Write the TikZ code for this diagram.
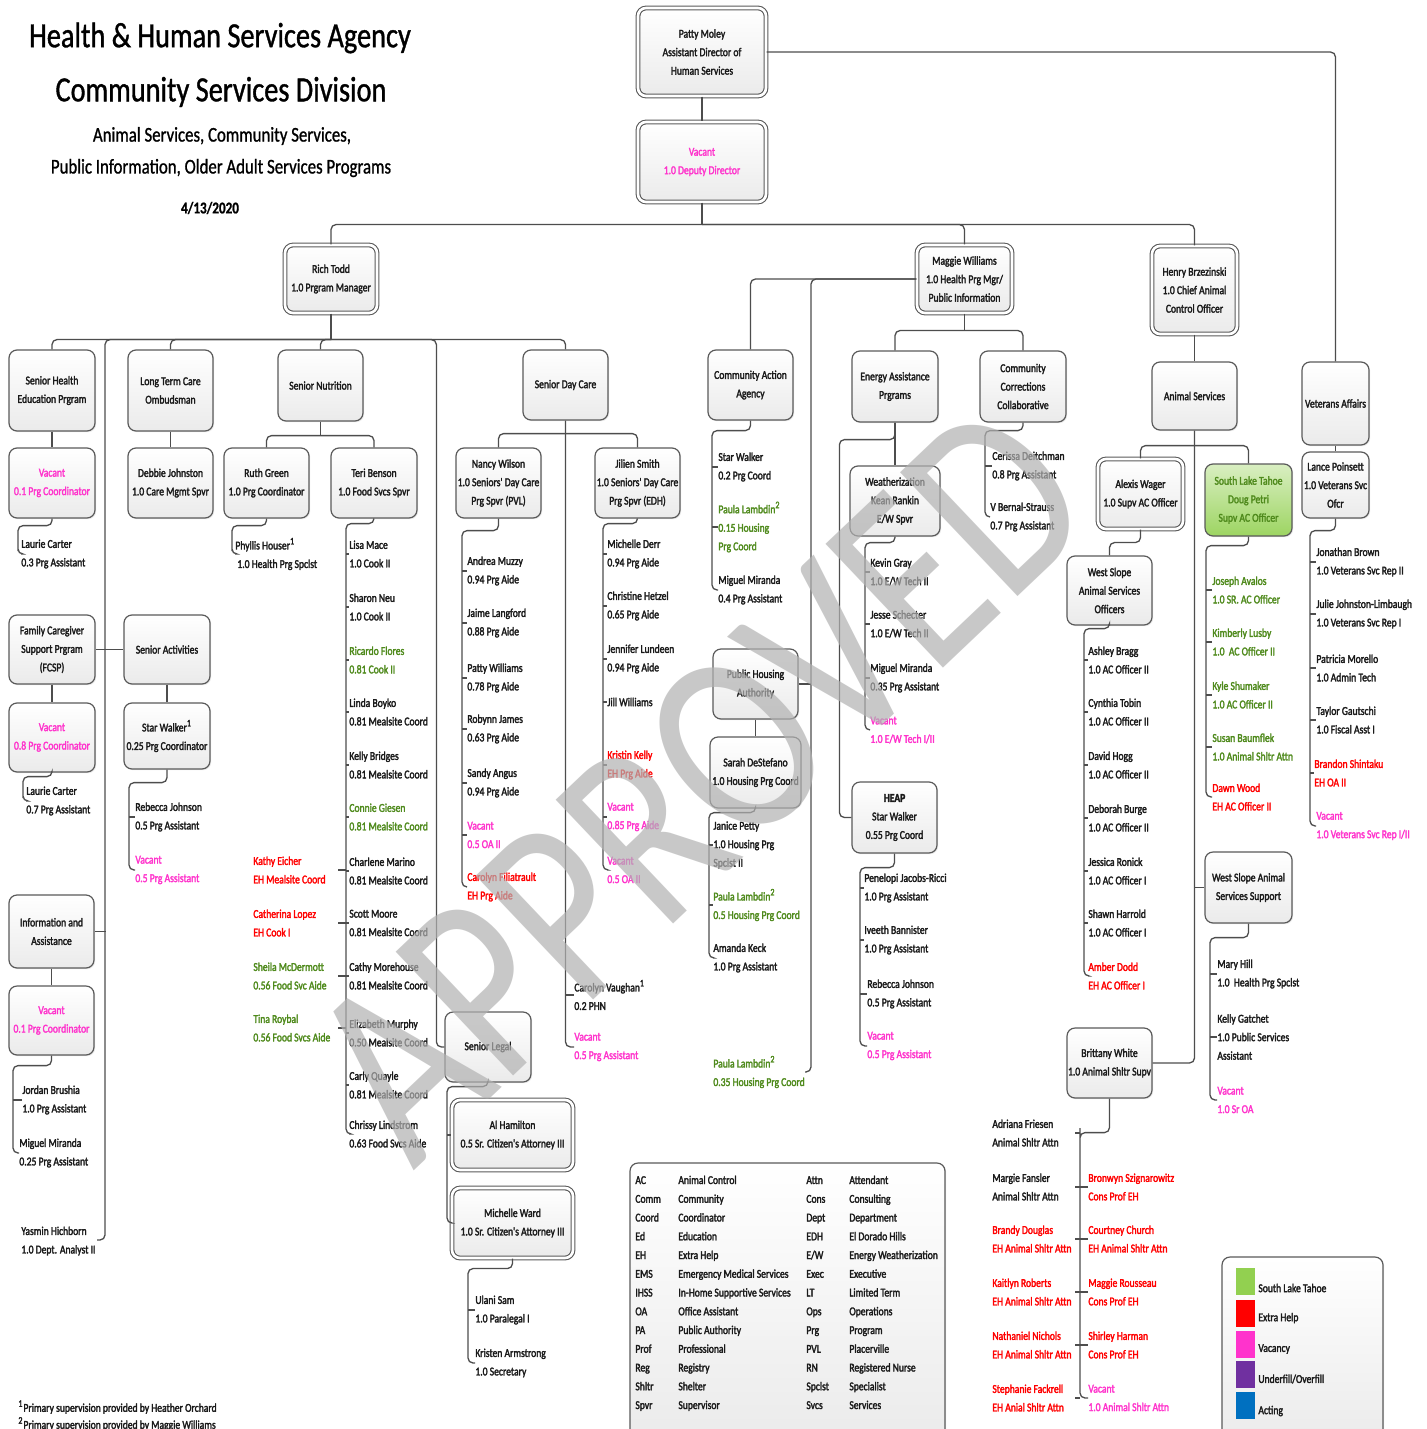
\documentclass[tikz,border=0pt]{standalone}
\usepackage{fontspec}
\setmainfont{Carlito}[FakeStretch=0.8,FakeBold=1]
\newfontfamily\smfont{Carlito}[FakeStretch=0.8,FakeBold=2.2]
\newfontfamily\wmfont{Carlito}[FakeStretch=0.8]
\usetikzlibrary{shadows}
\definecolor{txt}{HTML}{1A1A1A}
\definecolor{mag}{HTML}{FF33CC}
\definecolor{redc}{HTML}{FF0000}
\definecolor{grn}{HTML}{4F8A1C}
\definecolor{lgrn}{HTML}{92D050}
\definecolor{lpur}{HTML}{7030A0}
\definecolor{lblu}{HTML}{0070C0}
\definecolor{lnc}{HTML}{4D4D4D}
\definecolor{bdc}{HTML}{5A5A5A}
\newcommand{\sm}{\smfont\fontsize{6}{9.25}\selectfont}
\tikzset{
 conn/.style={draw=lnc, line width=0.65pt, rounded corners=2.5pt},
 box/.style={draw=bdc, line width=0.6pt, rounded corners=4pt, top color=white, bottom color=black!8, align=center, inner sep=0pt, font=\sm, text=txt, drop shadow={opacity=0.15, shadow xshift=0.6pt, shadow yshift=-0.6pt}},
 dbox/.style={double=white, double distance=1.3pt, line width=0.55pt},
 gbox/.style={top color=lgrn!35, bottom color=lgrn!90, text=grn},
 staff/.style={anchor=west, inner sep=0pt, align=left, font=\sm, text=txt},
 vac/.style={text=mag}, ehx/.style={text=redc}, gtx/.style={text=grn},
}
\newcommand{\bx}[7][]{\node[box,#1,minimum width={(#5-#3)/2},minimum height={(#6-#4)/2}] (#2) at ({(#3+#5)/2},{(#4+#6)/2}) {#7};}
\newcommand{\st}[5][]{\node[staff,#1] (#2) at (#3,#4) {#5};}
\newcommand{\brk}[5]{\draw[conn] (#1.south) -- ++(0,#2) -| (#3 |- #4.west) |- (#5.west);}
\newcommand{\tks}[2]{\foreach \q in {#2}{\draw[conn] (#1 |- \q.west) -- (\q.west);}}
\newcommand{\ltks}[3]{\foreach \q in {#3}{\draw[conn] (#1 |- \q.west) -- ++(-#2,0);}}
\begin{document}
\begin{tikzpicture}[x=0.5pt,y=-0.5pt]
\useasboundingbox (0,0) rectangle (1426,1429);
\clip (0,0) rectangle (1426,1429);
\fill[white] (0,0) rectangle (1426,1429);

% titles
\node[font=\fontsize{17.7}{20}\selectfont] (t1) at (220,38) {Health \& Human Services Agency};
\node[font=\fontsize{17.7}{20}\selectfont] (t2) at (221,92) {Community Services Division};
\node[font=\fontsize{10.5}{12}\selectfont] (t3) at (222,136) {Animal Services, Community Services,};
\node[font=\fontsize{10.5}{12}\selectfont] (t4) at (221,168) {Public Information, Older Adult Services Programs};
\node[font=\bfseries\fontsize{8.2}{10}\selectfont] (t5) at (210,208) {4/13/2020};

% boxes
\bx[dbox]{pm}{638}{8}{766}{96}{Patty Moley\\Assistant Director of\\Human Services}
\bx[dbox,text=mag]{dd}{638}{122}{766}{202}{Vacant\\1.0 Deputy Director}
\bx[dbox]{rt}{285}{245}{377}{313}{Rich Todd\\1.0 Prgram Manager}
\bx[dbox]{mw}{917}{245}{1012}{313}{Maggie Williams\\1.0 Health Prg Mgr/\\Public Information}
\bx[dbox]{hb}{1152}{246}{1237}{334}{Henry Brzezinski\\1.0 Chief Animal\\Control Officer}
\bx{she}{9}{350}{95}{431}{Senior Health\\Education Prgram}
\bx{ltc}{128}{350}{213}{431}{Long Term Care\\Ombudsman}
\bx{sn}{278}{350}{363}{421}{Senior Nutrition}
\bx{sdc}{523}{350}{608}{420}{Senior Day Care}
\bx{caa}{708}{350}{793}{420}{Community Action\\Agency}
\bx{eap}{852}{351}{938}{422}{Energy Assistance\\Prgrams}
\bx{ccc}{980}{351}{1066}{422}{Community\\Corrections\\Collaborative}
\bx{as}{1152}{362}{1237}{430}{Animal Services}
\bx{va}{1302}{362}{1369}{445}{Veterans Affairs}
\bx[text=mag]{v1}{9}{448}{95}{518}{Vacant\\0.1 Prg Coordinator}
\bx{dj}{128}{448}{213}{518}{Debbie Johnston\\1.0 Care Mgmt Spvr}
\bx{rg}{224}{448}{309}{518}{Ruth Green\\1.0 Prg Coordinator}
\bx{tb}{331}{448}{417}{518}{Teri Benson\\1.0 Food Svcs Spvr}
\bx{nw}{456}{448}{541}{518}{Nancy Wilson\\1.0 Seniors' Day Care\\Prg Spvr (PVL)}
\bx{js}{595}{448}{680}{518}{Jilien Smith\\1.0 Seniors' Day Care\\Prg Spvr (EDH)}
\bx{wz}{850}{466}{940}{536}{Weatherization\\Kean Rankin\\E/W Spvr}
\bx[dbox]{aw}{1098}{459}{1183}{529}{Alexis Wager\\1.0 Supv AC Officer}
\bx[gbox]{slt}{1205}{464}{1292}{536}{South Lake Tahoe\\Doug Petri\\Supv AC Officer}
\bx{lp}{1302}{452}{1369}{518}{Lance Poinsett\\1.0 Veterans Svc\\Ofcr}
\bx{wso}{1067}{556}{1152}{625}{West Slope\\Animal Services\\Officers}
\bx{fcsp}{9}{615}{95}{684}{Family Caregiver\\Support Prgram\\(FCSP)}
\bx{sa}{124}{615}{210}{684}{Senior Activities}
\bx{pha}{713}{649}{798}{719}{Public Housing\\Authority}
\bx[text=mag]{v8}{9}{703}{95}{772}{Vacant\\0.8 Prg Coordinator}
\bx{sw}{124}{703}{210}{769}{Star Walker\textsuperscript{1}\\0.25 Prg Coordinator}
\bx{sds}{710}{737}{801}{808}{Sarah DeStefano\\1.0 Housing Prg Coord}
\bx{heap}{852}{782}{937}{853}{\textbf{HEAP}\\Star Walker\\0.55 Prg Coord}
\bx{wsas}{1205}{852}{1292}{923}{West Slope Animal\\Services Support}
\bx{ia}{9}{895}{94}{968}{Information and\\Assistance}
\bx[text=mag]{v01}{9}{986}{94}{1055}{Vacant\\0.1 Prg Coordinator}
\bx{sl}{445}{1012}{531}{1082}{Senior Legal}
\bx{bw}{1067}{1028}{1152}{1098}{Brittany White\\1.0 Animal Shltr Supv}
\bx[dbox]{ah}{452}{1100}{573}{1170}{Al Hamilton\\0.5 Sr. Citizen's Attorney III}
\bx[dbox]{mwd}{452}{1188}{573}{1258}{Michelle Ward\\1.0 Sr. Citizen's Attorney III}

% staff
\st{lc1}{21}{554}{Laurie Carter\\0.3 Prg Assistant}
\st{lc2}{26}{801}{Laurie Carter\\0.7 Prg Assistant}
\st{jb}{22}{1100}{Jordan Brushia\\1.0 Prg Assistant}
\st{mm1}{19}{1153}{Miguel Miranda\\0.25 Prg Assistant}
\st{yh}{21}{1241}{Yasmin Hichborn\\1.0 Dept. Analyst II}
\st{rj1}{135}{817}{Rebecca Johnson\\0.5 Prg Assistant}
\st[vac]{vac1}{135}{870}{Vacant\\0.5 Prg Assistant}
\st{ph}{235}{554}{Phyllis Houser\textsuperscript{1}\\\hspace{1pt}1.0 Health Prg Spclst}
\st{lm}{349}{554}{Lisa Mace\\1.0 Cook II}
\st{sne}{349}{607}{Sharon Neu\\1.0 Cook II}
\st[gtx]{rf}{349}{660}{Ricardo Flores\\0.81 Cook II}
\st{lb}{349}{712}{Linda Boyko\\0.81 Mealsite Coord}
\st{kb}{349}{765}{Kelly Bridges\\0.81 Mealsite Coord}
\st[gtx]{cg}{349}{817}{Connie Giesen\\0.81 Mealsite Coord}
\st{cm}{349}{871}{Charlene Marino\\0.81 Mealsite Coord}
\st{smo}{349}{923}{Scott Moore\\0.81 Mealsite Coord}
\st{cmh}{349}{976}{Cathy Morehouse\\0.81 Mealsite Coord}
\st{em}{349}{1033}{Elizabeth Murphy\\0.50 Mealsite Coord}
\st{cq}{349}{1085}{Carly Quayle\\0.81 Mealsite Coord}
\st{cl}{349}{1134}{Chrissy Lindstrom\\0.63 Food Svcs Aide}
\st[ehx]{ke}{253}{870}{Kathy Eicher\\EH Mealsite Coord}
\st[ehx]{clo}{253}{923}{Catherina Lopez\\EH Cook I}
\st[gtx]{smd}{253}{976}{Sheila McDermott\\0.56 Food Svc Aide}
\st[gtx]{tr}{253}{1028}{Tina Roybal\\0.56 Food Svcs Aide}
\st{am}{467}{571}{Andrea Muzzy\\0.94 Prg Aide}
\st{jl}{467}{623}{Jaime Langford\\0.88 Prg Aide}
\st{pw}{467}{678}{Patty Williams\\0.78 Prg Aide}
\st{rja}{467}{729}{Robynn James\\0.63 Prg Aide}
\st{sag}{467}{783}{Sandy Angus\\0.94 Prg Aide}
\st[vac]{vn1}{467}{835}{Vacant\\0.5 OA II}
\st[ehx]{cf}{467}{887}{Carolyn Filiatrault\\EH Prg Aide}
\st{md}{607}{554}{Michelle Derr\\0.94 Prg Aide}
\st{ch}{607}{606}{Christine Hetzel\\0.65 Prg Aide}
\st{jlu}{607}{659}{Jennifer Lundeen\\0.94 Prg Aide}
\st{jw}{607}{702}{Jill Williams}
\st[ehx]{kk}{607}{765}{Kristin Kelly\\EH Prg Aide}
\st[vac]{vj1}{607}{817}{Vacant\\0.85 Prg Aide}
\st[vac]{vj2}{607}{870}{Vacant\\0.5 OA II}
\st{cv}{574}{995}{Carolyn Vaughan\textsuperscript{1}\\0.2 PHN}
\st[vac]{vsd}{574}{1047}{Vacant\\0.5 Prg Assistant}
\st{swk}{718}{467}{Star Walker\\0.2 Prg Coord}
\st[gtx]{pl1}{718}{527}{Paula Lambdin\textsuperscript{2}\\0.15 Housing\\Prg Coord}
\st{mm2}{718}{590}{Miguel Miranda\\0.4 Prg Assistant}
\st{jp}{713}{845}{Janice Petty\\1.0 Housing Prg\\Spclst II}
\st[gtx]{pl2}{713}{905}{Paula Lambdin\textsuperscript{2}\\0.5 Housing Prg Coord}
\st{ak}{713}{958}{Amanda Keck\\1.0 Prg Assistant}
\st[gtx]{pl3}{713}{1072}{Paula Lambdin\textsuperscript{2}\\0.35 Housing Prg Coord}
\st{kg}{870}{572}{Kevin Gray\\1.0 E/W Tech II}
\st{jsc}{870}{624}{Jesse Schecter\\1.0 E/W Tech II}
\st{mm3}{870}{678}{Miguel Miranda\\0.35 Prg Assistant}
\st[vac]{vw}{870}{730}{Vacant\\1.0 E/W Tech I/II}
\st{pjr}{864}{888}{Penelopi Jacobs-Ricci\\1.0 Prg Assistant}
\st{ib}{864}{940}{Iveeth Bannister\\1.0 Prg Assistant}
\st{rj2}{867}{994}{Rebecca Johnson\\0.5 Prg Assistant}
\st[vac]{vh}{867}{1046}{Vacant\\0.5 Prg Assistant}
\st{cd}{992}{466}{Cerissa Deitchman\\0.8 Prg Assistant}
\st{vbs}{990}{517}{V Bernal-Strauss\\0.7 Prg Assistant}
\st{ab}{1088}{660}{Ashley Bragg\\1.0 AC Officer II}
\st{ct}{1088}{712}{Cynthia Tobin\\1.0 AC Officer II}
\st{dh}{1088}{765}{David Hogg\\1.0 AC Officer II}
\st{db}{1088}{818}{Deborah Burge\\1.0 AC Officer II}
\st{jr}{1088}{871}{Jessica Ronick\\1.0 AC Officer I}
\st{sh}{1088}{923}{Shawn Harrold\\1.0 AC Officer I}
\st[ehx]{ad}{1088}{976}{Amber Dodd\\EH AC Officer I}
\st[gtx]{ja}{1212}{590}{Joseph Avalos\\1.0 SR. AC Officer}
\st[gtx]{kl}{1212}{642}{Kimberly Lusby\\1.0\ \ AC Officer II}
\st[gtx]{ks}{1212}{695}{Kyle Shumaker\\1.0 AC Officer II}
\st[gtx]{sb}{1212}{747}{Susan Baumflek\\1.0 Animal Shltr Attn}
\st[ehx]{dw}{1212}{797}{Dawn Wood\\EH AC Officer II}
\st{jbr}{1316}{562}{Jonathan Brown\\1.0 Veterans Svc Rep II}
\st{jjl}{1316}{614}{Julie Johnston-Limbaugh\\1.0 Veterans Svc Rep I}
\st{pmo}{1316}{668}{Patricia Morello\\1.0 Admin Tech}
\st{tg}{1316}{720}{Taylor Gautschi\\1.0 Fiscal Asst I}
\st[ehx]{bs}{1314}{773}{Brandon Shintaku\\EH OA II}
\st[vac]{vv}{1316}{826}{Vacant\\1.0 Veterans Svc Rep I/II}
\st{mh}{1217}{974}{Mary Hill\\1.0\ \ Health Prg Spclst}
\st{kga}{1217}{1037}{Kelly Gatchet\\1.0 Public Services\\Assistant}
\st[vac]{vso}{1217}{1100}{Vacant\\1.0 Sr OA}
\st{af}{992}{1133}{Adriana Friesen\\Animal Shltr Attn}
\st{mf}{992}{1187}{Margie Fansler\\Animal Shltr Attn}
\st[ehx]{bd}{992}{1239}{Brandy Douglas\\EH Animal Shltr Attn}
\st[ehx]{kr}{992}{1292}{Kaitlyn Roberts\\EH Animal Shltr Attn}
\st[ehx]{nni}{992}{1345}{Nathaniel Nichols\\EH Animal Shltr Attn}
\st[ehx]{sf}{992}{1398}{Stephanie Fackrell\\EH Anial Shltr Attn}
\st[ehx]{bsz}{1088}{1187}{Bronwyn Szignarowitz\\Cons Prof EH}
\st[ehx]{cc}{1088}{1239}{Courtney Church\\EH Animal Shltr Attn}
\st[ehx]{mr}{1088}{1292}{Maggie Rousseau\\Cons Prof EH}
\st[ehx]{shm}{1088}{1345}{Shirley Harman\\Cons Prof EH}
\st[vac]{vb}{1088}{1398}{Vacant\\1.0 Animal Shltr Attn}
\st{us}{475}{1310}{Ulani Sam\\1.0 Paralegal I}
\st{ka}{475}{1363}{Kristen Armstrong\\1.0 Secretary}

% line coordinates
\coordinate (Lv1) at (18,0); \coordinate (Lv8) at (23,0); \coordinate (Lv01) at (13,0);
\coordinate (Lsw) at (129,0); \coordinate (Lrg) at (232,0); \coordinate (Ltb) at (346,0);
\coordinate (Lnw) at (462,0); \coordinate (Ljs) at (603,0); \coordinate (Lcaa) at (712,0);
\coordinate (Lsds) at (709,0); \coordinate (Lwz) at (865,0); \coordinate (Lheap) at (860,0);
\coordinate (Lccc) at (985,0); \coordinate (Lwso) at (1084,0); \coordinate (Lslt) at (1206,0);
\coordinate (Llp) at (1310,0); \coordinate (Lwsas) at (1210,0); \coordinate (Lbw) at (1080,0);
\coordinate (Lsl) at (447,0); \coordinate (Lmwd) at (468,0); \coordinate (mwx) at (811,0);
\coordinate (yhk) at (97,1240); \coordinate (pl3k) at (805,1072);

% connectors: top
\draw[conn] (pm) -- (dd);
\draw[conn] (pm.east) -| (va.north);
\draw[conn] (dd.south) -- ++(0,22) coordinate (ddb);
\draw[conn] (ddb) -| (rt.north);
\draw[conn] (ddb) -| (mw.north);
\draw[conn] (ddb) -| (hb.north);
% Rich Todd
\draw[conn] (rt.south) -- ++(0,26) coordinate (rtb);
\draw[conn] (rtb) -| (she.north);
\draw[conn] (rtb) -| (ltc.north);
\draw[conn] (rtb) -| (sn.north);
\draw[conn] (rtb) -| (sdc.north);
\draw[conn] (rtb) -| ([xshift=4pt]yhk) -- (yhk);
\draw[conn] (rtb) -| ([xshift=-4pt]sl.west) -- (sl.west);
\draw[conn] (she) -- (v1);
\draw[conn] (ltc) -- (dj);
\draw[conn] (fcsp) -- (v8);
\draw[conn] (sa) -- (sw);
\draw[conn] (ia) -- (v01);
\draw[conn] (fcsp.east) -- (sa.west);
\draw[conn] (ia.east) -- ++(11,0);
\brk{v1}{7}{Lv1}{lc1}{lc1}
\brk{v8}{4}{Lv8}{lc2}{lc2}
\brk{v01}{10}{Lv01}{jb}{mm1} \tks{Lv01}{jb}
\brk{sw}{13}{Lsw}{rj1}{vac1} \tks{Lsw}{rj1}
% nutrition
\draw[conn] (sn.south) -- ++(0,14) coordinate (snb);
\draw[conn] (snb) -| (rg.north);
\draw[conn] (snb) -| (tb.north);
\brk{rg}{7}{Lrg}{ph}{ph}
\brk{tb}{5}{Ltb}{lm}{cl} \tks{Ltb}{lm,sne,rf,lb,kb,cg,cm,smo,cmh,em,cq}
\ltks{Ltb}{8}{ke,clo,smd,tr}
% day care
\draw[conn] (sdc.south) -- ++(0,13) coordinate (sdcb);
\draw[conn] (sdcb) -| (nw.north);
\draw[conn] (sdcb) -| (js.north);
\draw[conn] (sdc.south) |- (vsd.west);
\draw[conn] (sdc.south |- cv.west) -- (cv.west);
\brk{nw}{12}{Lnw}{am}{cf} \tks{Lnw}{am,jl,pw,rja,sag,vn1}
\brk{js}{5}{Ljs}{md}{vj2} \tks{Ljs}{md,ch,jlu,jw,kk,vj1}
% legal
\draw[conn] (sl.south) -- ++(0,4) -| (Lsl |- ah.west) |- (mwd.west);
\draw[conn] (Lsl |- ah.west) -- (ah.west);
\brk{mwd}{10}{Lmwd}{us}{ka} \tks{Lmwd}{us}
% Maggie Williams
\draw[conn] (mw.west) -| (caa.north);
\draw[conn] (mw.west) -| (mwx |- pl3k) -- (pl3k);
\draw[conn] (pha.east) -- (mwx |- pha.east);
\draw[conn] (mw.south) -- ++(0,17) coordinate (mwb);
\draw[conn] (mwb) -| (eap.north);
\draw[conn] (mwb) -| (ccc.north);
\brk{caa}{10}{Lcaa}{swk}{mm2} \tks{Lcaa}{swk,pl1}
\draw[conn] (pha) -- (sds);
\brk{sds}{4}{Lsds}{jp}{ak} \tks{Lsds}{jp,pl2}
\draw[conn] (eap) -- (wz);
\draw[conn] (eap.south) -- ++(0,17) -| ([xshift=-6pt]heap.west) -- (heap.west);
\brk{wz}{6}{Lwz}{kg}{vw} \tks{Lwz}{kg,jsc,mm3}
\brk{heap}{14}{Lheap}{pjr}{vh} \tks{Lheap}{pjr,ib,rj2}
\brk{ccc}{8}{Lccc}{cd}{vbs} \tks{Lccc}{cd}
% Animal services
\draw[conn] (hb) -- (as);
\draw[conn] (as.south) -- ++(0,15) coordinate (asb);
\draw[conn] (asb) -| (aw.north);
\draw[conn] (asb) -| (slt.north);
\draw[conn] (as.south) |- (bw.east);
\draw[conn] (wsas.west) -- (as.south |- wsas.west);
\draw[conn] (aw.south) -- ++(0,13) -| (wso.north);
\brk{wso}{3}{Lwso}{ab}{ad} \tks{Lwso}{ab,ct,dh,db,jr,sh}
\brk{slt}{9}{Lslt}{ja}{dw} \tks{Lslt}{ja,kl,ks,sb}
\brk{wsas}{14}{Lwsas}{mh}{vso} \tks{Lwsas}{mh,kga}
\brk{bw}{34}{Lbw}{af}{vb} \tks{Lbw}{bsz,cc,mr,shm}
\ltks{Lbw}{5}{af,mf,bd,kr,nni,sf}
% veterans
\draw[conn] (va) -- (lp);
\brk{lp}{12}{Llp}{jbr}{vv} \tks{Llp}{jbr,jjl,pmo,tg,bs}

% abbreviations
\bx{abbr}{630}{1163}{945}{1445}{}
\node[anchor=base west, inner sep=0pt, font=\smfont\fontsize{6}{9.375}\selectfont, text=txt] (abt) at (635,1184) {\setlength{\tabcolsep}{0pt}\begin{tabular}[t]{@{}p{21.5pt}p{64pt}p{21.5pt}l@{}}
AC & Animal Control & Attn & Attendant\\
Comm & Community & Cons & Consulting\\
Coord & Coordinator & Dept & Department\\
Ed & Education & EDH & El Dorado Hills\\
EH & Extra Help & E/W & Energy Weatherization\\
EMS & Emergency Medical Services & Exec & Executive\\
IHSS & In-Home Supportive Services & LT & Limited Term\\
OA & Office Assistant & Ops & Operations\\
PA & Public Authority & Prg & Program\\
Prof & Professional & PVL & Placerville\\
Reg & Registry & RN & Registered Nurse\\
Shltr & Shelter & Spclst & Specialist\\
Spvr & Supervisor & Svcs & Services
\end{tabular}};

% legend
\bx{leg}{1222}{1257}{1383}{1445}{}
\node[fill=lgrn, minimum width=9.5pt, minimum height=13.5pt, inner sep=0pt] (sg) at (1245,1281) {};
\node[fill=redc, minimum width=9.5pt, minimum height=13.5pt, inner sep=0pt] (sr) at (1245,1313) {};
\node[fill=mag, minimum width=9.5pt, minimum height=13.5pt, inner sep=0pt] (sm) at (1245,1344) {};
\node[fill=lpur, minimum width=9.5pt, minimum height=13.5pt, inner sep=0pt] (sp) at (1245,1374.5) {};
\node[fill=lblu, minimum width=9.5pt, minimum height=13.5pt, inner sep=0pt] (sbl) at (1245,1405) {};
\st{lg1}{1258}{1288}{South Lake Tahoe}
\st{lg2}{1258}{1318}{Extra Help}
\st{lg3}{1258}{1349}{Vacancy}
\st{lg4}{1258}{1379}{Underfill/Overfill}
\st{lg5}{1258}{1411}{Acting}

% footnotes
\st{fn1}{18}{1407}{\textsuperscript{1}Primary supervision provided by Heather Orchard}
\st{fn2}{18}{1424}{\textsuperscript{2}Primary supervision provided by Maggie Williams}

% watermark
\node[rotate=43.5, text=black!30, opacity=0.7, inner sep=0pt, font=\wmfont\fontsize{133}{133}\selectfont] (wm) at (699,782) {APPROVED};
\end{tikzpicture}
\end{document}
